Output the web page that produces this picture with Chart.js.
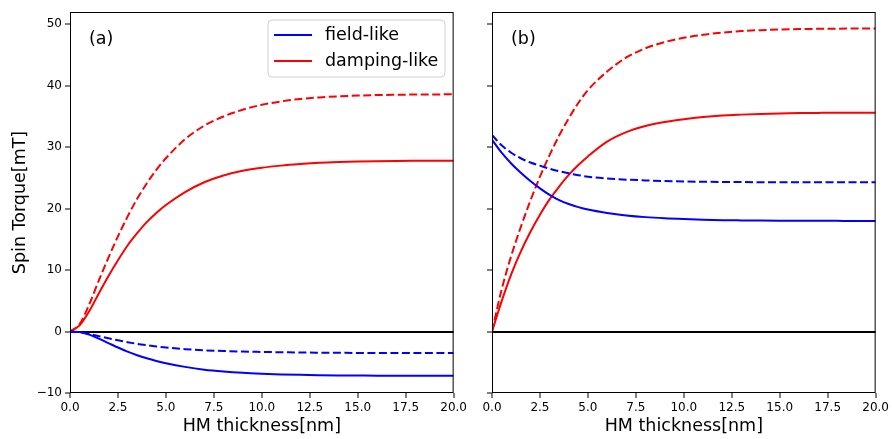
<!DOCTYPE html>
<html>
<head>
<meta charset="utf-8">
<script src="https://cdn.jsdelivr.net/npm/chart.js@4.4.1/dist/chart.umd.min.js"></script>
<style>
  html, body { margin: 0; padding: 0; background: #fff; }
  #wrap { position: relative; width: 892px; height: 439px; }
  canvas { position: absolute; top: 0; }
  #chart-a { left: 0; }
  #chart-b { left: 470px; }
</style>
</head>
<body>
<div id="wrap">
  <canvas id="chart-a" width="470" height="439"></canvas>
  <canvas id="chart-b" width="422" height="439"></canvas>
</div>
<script>
// HM thickness [nm]
const thickness = [0, 0.5, 1, 1.5, 2, 2.5, 3, 3.5, 4, 4.5, 5, 6, 7, 8, 9, 10, 11, 12, 13, 14, 15, 16, 17, 18, 19, 20];

// panel (a)
const fieldSolidA = [0, -0.08, -0.5, -1.15, -1.87, -2.6, -3.27, -3.85, -4.35, -4.78, -5.15, -5.75, -6.2, -6.5, -6.72, -6.87, -6.98, -7.05, -7.1, -7.14, -7.16, -7.18, -7.19, -7.2, -7.2, -7.2];
const fieldDashA = [0, -0.08, -0.38, -0.75, -1.1, -1.43, -1.73, -2.0, -2.22, -2.42, -2.6, -2.87, -3.05, -3.17, -3.26, -3.32, -3.37, -3.41, -3.44, -3.46, -3.48, -3.49, -3.5, -3.5, -3.5, -3.5];
const dampSolidA = [0, 1.0, 3.3, 6.2, 9.0, 11.6, 14.0, 16.0, 17.8, 19.3, 20.6, 22.7, 24.3, 25.4, 26.15, 26.65, 27.0, 27.25, 27.45, 27.58, 27.67, 27.73, 27.77, 27.79, 27.8, 27.8];
const dampDashA = [0, 1.2, 4.4, 8.3, 12.0, 15.5, 18.7, 21.6, 24.1, 26.3, 28.2, 31.3, 33.5, 35.0, 36.1, 36.9, 37.45, 37.85, 38.1, 38.28, 38.4, 38.48, 38.53, 38.57, 38.59, 38.6];

// panel (b)
const fieldSolidB = [31.2, 29.1, 27.35, 25.85, 24.5, 23.3, 22.25, 21.4, 20.75, 20.25, 19.85, 19.3, 18.9, 18.62, 18.43, 18.3, 18.2, 18.13, 18.09, 18.06, 18.04, 18.03, 18.02, 18.01, 18.0, 18.0];
const fieldDashB = [32.0, 30.3, 29.1, 28.2, 27.5, 27.0, 26.5, 26.1, 25.75, 25.45, 25.2, 24.9, 24.72, 24.6, 24.5, 24.42, 24.37, 24.34, 24.32, 24.31, 24.3, 24.3, 24.3, 24.3, 24.3, 24.3];
const dampSolidB = [0, 4.9, 9.3, 13.0, 16.2, 19.0, 21.5, 23.6, 25.5, 27.1, 28.5, 30.9, 32.45, 33.45, 34.1, 34.55, 34.9, 35.15, 35.3, 35.42, 35.5, 35.55, 35.58, 35.6, 35.6, 35.6];
const dampDashB = [0, 6.8, 12.3, 17.0, 21.3, 25.2, 28.7, 31.9, 34.7, 37.2, 39.3, 42.3, 44.6, 46.1, 47.1, 47.8, 48.3, 48.65, 48.9, 49.05, 49.15, 49.22, 49.26, 49.29, 49.3, 49.3];

const xTicks = [0, 2.5, 5, 7.5, 10, 12.5, 15, 17.5, 20];
const yTicks = [-10, 0, 10, 20, 30, 40, 50];
const legendNames = ["field-like", "damping-like"];
const BLUE = "#0000ff";
const RED = "#ff0000";

Chart.defaults.font.family = "'DejaVu Sans', sans-serif";
Chart.defaults.color = "#000";

function makeSet(label, values, color, dashed) {
  return {
    label: label,
    data: thickness.map((x, i) => ({ x: x, y: values[i] })),
    borderColor: color,
    borderWidth: 2,
    borderDash: dashed ? [8, 3.5] : [],
    pointRadius: 0,
    fill: false,
    cubicInterpolationMode: "monotone",
  };
}

// box around the plot, panel letter, legend
const framePlugin = {
  id: "frame",
  afterDatasetsDraw(chart, args, opts) {
    const ctx = chart.ctx;
    const a = chart.chartArea;
    ctx.save();
    ctx.strokeStyle = "#000";
    ctx.lineWidth = 1;
    ctx.strokeRect(a.left + 0.5, a.top + 0.5, a.width - 1, a.height - 1);

    ctx.font = "17.5px 'DejaVu Sans'";
    ctx.fillStyle = "#000";
    ctx.textBaseline = "middle";
    ctx.textAlign = "left";
    ctx.fillText(opts.letter, a.left + 19, a.top + 27);

    if (opts.legend) {
      const bx = a.left + 198, by = a.top + 8, bw = 177, bh = 57;
      ctx.beginPath();
      ctx.roundRect(bx, by, bw, bh, 4);
      ctx.fillStyle = "rgba(255,255,255,0.8)";
      ctx.fill();
      ctx.strokeStyle = "#d0d0d0";
      ctx.stroke();
      const colors = [BLUE, RED];
      for (let i = 0; i < legendNames.length; i++) {
        const ly = by + 15 + i * 26;
        ctx.beginPath();
        ctx.moveTo(bx + 6, ly);
        ctx.lineTo(bx + 44, ly);
        ctx.strokeStyle = colors[i];
        ctx.lineWidth = 2;
        ctx.stroke();
        ctx.fillStyle = "#000";
        ctx.fillText(legendNames[i], bx + 57, ly);
      }
    }
    ctx.restore();
  },
};

function makeChart(id, sets, letter, showLabels) {
  return new Chart(document.getElementById(id), {
    type: "line",
    data: { datasets: sets },
    plugins: [framePlugin],
    options: {
      responsive: false,
      animation: false,
      layout: { padding: { left: 0, top: 12, right: 16, bottom: 0 } },
      plugins: {
        legend: { display: false },
        tooltip: { enabled: false },
        frame: { letter: letter, legend: showLabels },
      },
      scales: {
        x: {
          type: "linear",
          min: 0,
          max: 20,
          afterBuildTicks: (s) => { s.ticks = xTicks.map((v) => ({ value: v })); },
          afterFit: (s) => { s.height = 46; },
          ticks: {
            font: { size: 12 },
            padding: 3,
            maxRotation: 0,
            callback: (v) => Number(v).toFixed(1),
          },
          grid: {
            color: "rgba(0,0,0,0)",
            lineWidth: 0,
            tickColor: "#000",
            tickWidth: 1,
            tickLength: 5,
          },
          border: { display: false },
          title: {
            display: true,
            text: "HM thickness[nm]",
            font: { size: 17.5 },
            padding: { top: 0, bottom: 2 },
          },
        },
        y: {
          min: -10,
          max: 52,
          afterBuildTicks: (s) => { s.ticks = yTicks.map((v) => ({ value: v })); },
          afterFit: (s) => { s.width = showLabels ? 70 : 22; },
          ticks: {
            font: { size: 12 },
            padding: 3,
            callback: (v) => (showLabels ? String(v).replace("-", "\u2212") : ""),
          },
          grid: {
            color: (c) => (c.tick && c.tick.value === 0 ? "#000" : "rgba(0,0,0,0)"),
            lineWidth: (c) => (c.tick && c.tick.value === 0 ? 2 : 0),
            tickColor: "#000",
            tickWidth: 1,
            tickLength: 5,
          },
          border: { display: false },
          title: {
            display: showLabels,
            text: "Spin Torque[mT]",
            font: { size: 17.5 },
            padding: { top: 9.5, bottom: 0 },
          },
        },
      },
    },
  });
}

makeChart("chart-a", [
  makeSet("field-like", fieldSolidA, BLUE, false),
  makeSet("field-like", fieldDashA, BLUE, true),
  makeSet("damping-like", dampSolidA, RED, false),
  makeSet("damping-like", dampDashA, RED, true),
], "(a)", true);

makeChart("chart-b", [
  makeSet("field-like", fieldSolidB, BLUE, false),
  makeSet("field-like", fieldDashB, BLUE, true),
  makeSet("damping-like", dampSolidB, RED, false),
  makeSet("damping-like", dampDashB, RED, true),
], "(b)", false);
</script>
</body>
</html>
